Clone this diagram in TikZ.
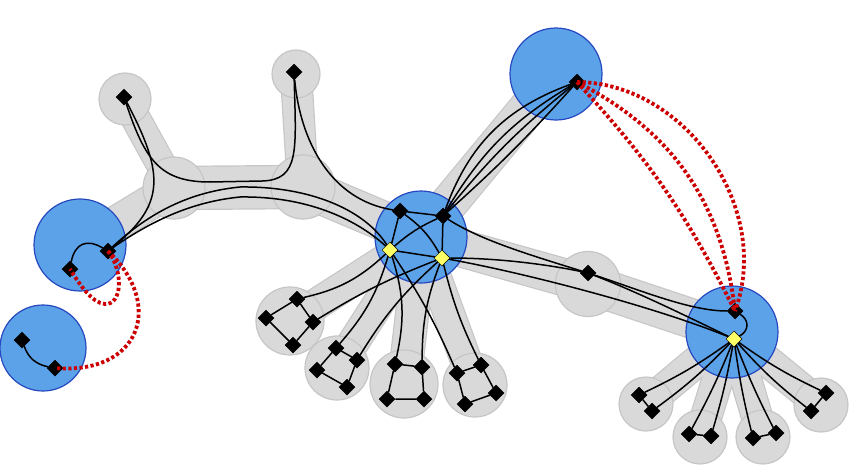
\documentclass[tikz,border=0pt]{standalone}
\usepackage{tikz}
\usetikzlibrary{shapes.geometric, positioning}

\definecolor{hubblue}{RGB}{92,162,232}
\definecolor{hubedge}{RGB}{38,72,192}
\definecolor{bundlegray}{RGB}{217,217,217}
\definecolor{bundleedge}{RGB}{198,198,198}
\definecolor{pinyellow}{RGB}{255,255,102}
\definecolor{crossred}{RGB}{204,0,0}

\def\bandlist{l1/g2/33, g1/g2/28, g2/g4/42, g3/g4/30, g4/c/38, c/t/36, c/g5/36, g5/r/38,
  c/b1/30, c/b2/30, c/b3/32, c/b4/30, r/d1/30, r/d2/30, r/d3/30, r/d4/30}

\begin{document}
\begin{tikzpicture}[x=1pt, y=-1pt,
  hub/.style={circle, fill=hubblue, draw=hubedge, line width=1.2pt, inner sep=0pt, minimum size=#1pt},
  blob/.style={circle, fill=bundlegray, draw=bundleedge, line width=1.2pt, inner sep=0pt, minimum size=#1pt},
  pin/.style={diamond, fill=black, draw=black, line width=0.5pt, inner sep=0pt, minimum width=16pt, minimum height=16pt},
  ypin/.style={pin, fill=pinyellow},
  wire/.style={line width=1.5pt},
  cross/.style={crossred, line width=3.8pt, dash pattern=on 3.2pt off 2.4pt}]

\useasboundingbox (0,0) rectangle (849,466);

% Bundle centres
\foreach \n/\x/\y in {l1/80/245, l2/43/348, c/421/237, t/556/74, r/732/332,
  g1/125/99, g2/174/188, g3/296/74, g4/303/187, g5/588/284,
  b1/290/321, b2/337/368, b3/404/384, b4/475/385,
  d1/646/404, d2/700/437, d3/763/437, d4/821/405}
  \coordinate (\n) at (\x,\y);

% Bands between bundles
\foreach \a/\b/\w in \bandlist
  \draw[bundleedge, line width={(\w+2.4)*1pt}] (\a) -- (\b);
\foreach \a/\b/\w in \bandlist
  \draw[bundlegray, line width={\w*1pt}] (\a) -- (\b);

% Bundle discs
\foreach \n/\s in {g1/52, g2/62, g3/48, g4/64, g5/65, b1/68, b2/64, b3/68, b4/64,
  d1/54, d2/54, d3/54, d4/54}
  \node[blob=\s] (\n-ring) at (\n) {};
\foreach \n/\s in {l1/92, l2/86, c/92, t/92, r/92}
  \node[hub=\s] (\n-ring) at (\n) {};

% Vertices
\foreach \n/\x/\y in {g1v/124/97, g3v/294/72, l1a/70/269, l1b/108/251, l2a/22/340, l2b/55/368,
  t1/577/82, c1/400/211, c2/443/216, g5v/588/273, rb/735/311,
  b1a/297/299, b1b/313/322, b1c/293/345, b1d/266/318,
  b2a/336/348, b2b/357/360, b2c/347/387, b2d/317/370,
  b3a/395/364, b3b/422/367, b3c/424/399, b3d/387/399,
  b4a/457/373, b4b/481/365, b4c/496/393, b4d/465/404,
  d1a/639/395, d1b/652/411, d2a/689/434, d2b/711/436,
  d3a/753/438, d3b/776/433, d4a/826/393, d4b/811/411}
  \node[pin] (\n) at (\x,\y) {};
\node[ypin] (y1) at (390,250) {};
\node[ypin] (y2) at (442,258) {};
\node[ypin] (ry) at (734,339) {};

% Local wires
\draw[wire] (l1a) to[bend left=55, looseness=1.4] (l1b);
\draw[wire] (l2a) to[bend right=30] (l2b);
\foreach \p in {b1,b2,b3,b4}
  \draw[wire] (\p a) -- (\p b) -- (\p c) -- (\p d) -- (\p a);
\foreach \p in {d1,d2,d3,d4}
  \draw[wire] (\p a) -- (\p b);
\draw[wire] (c1) -- (c2) -- (y2) -- (y1) -- (c1);
\draw[wire] (c1) to[bend left=12] (y2);
\draw[wire] (c2) to[bend right=8] (y1);
\draw[wire] (rb) to[bend left=60, looseness=1.3] (ry);

% Routed wires
\draw[wire] (g1v) .. controls (145,160) and (160,182) .. (210,182) -- (262,181)
  .. controls (300,180) and (296,150) .. (g3v);
\draw[wire] (g1v) .. controls (165,175) and (165,205) .. (l1b);
\draw[wire] (g3v) .. controls (300,140) and (330,200) .. (c1);
\draw[wire] (l1b) .. controls (150,212) and (190,192) .. (240,187)
  .. controls (310,186) and (365,210) .. (y1);
\draw[wire] (l1b) .. controls (150,222) and (190,202) .. (240,197)
  .. controls (305,196) and (355,218) .. (y1);
\foreach \b in {25,14,6,-3}
  \draw[wire] (c2) to[bend left=\b] (t1);
\draw[wire] (c2) .. controls (480,240) and (530,255) .. (g5v);
\draw[wire] (y2) .. controls (500,258) and (550,265) .. (g5v);
\draw[wire] (y2) .. controls (520,272) and (650,305) .. (ry);
\draw[wire] (g5v) .. controls (640,290) and (690,311) .. (rb);
\draw[wire] (g5v) .. controls (640,293) and (690,318) .. (ry);
\foreach \p/\u/\v in {b1/15/5, b2/12/8, b3/15/10, b4/5/6} {
  \draw[wire] (\p a) to[bend right=\u] (y1);
  \draw[wire] (\p b) to[bend left=\v] (y2);
}
\foreach \q/\k in {d1a/5, d1b/5, d2a/3, d2b/3, d3a/-3, d3b/-3, d4a/-5, d4b/-5}
  \draw[wire] (ry) to[bend left=\k] (\q);

% Crossing links
\draw[cross] (l1b.center) .. controls (124,272) and (122,305) .. (105,304)
  .. controls (92,303) and (80,285) .. (l1a.center);
\draw[cross] (l1b.center) .. controls (165,305) and (140,375) .. (l2b.center);
\foreach \b in {8,28,55}
  \draw[cross] (t1.center) to[bend left=\b] (rb.center);

\end{tikzpicture}
\end{document}
